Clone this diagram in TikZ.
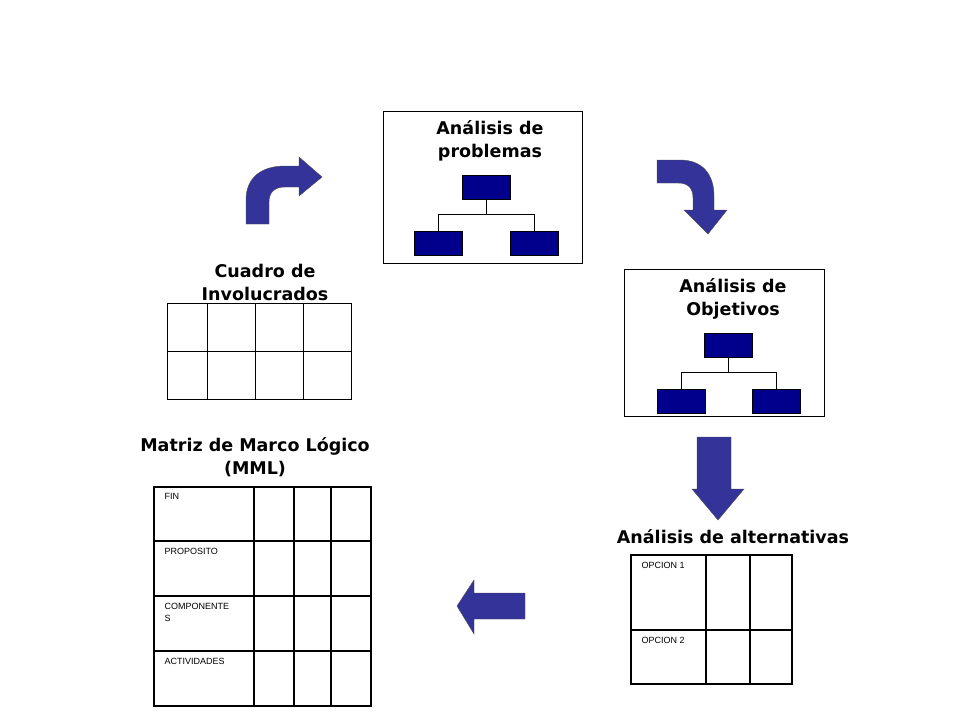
\documentclass[tikz,border=0pt]{standalone}
\usepackage{fontspec}
\setmainfont{DejaVu Sans}
\newfontfamily\tablefont{Liberation Sans}
\definecolor{arrowblue}{RGB}{51,51,153}
\definecolor{treeblue}{RGB}{0,0,140}
\tikzset{
  title/.style={align=center,font=\bfseries\fontsize{17.5pt}{23pt}\selectfont},
  treebox/.style={draw=black,fill=treeblue,minimum width=48pt,minimum height=24pt,inner sep=0pt},
  cell/.style={anchor=north west,font=\tablefont\fontsize{9pt}{12pt}\selectfont,align=left},
  bigarrow/.style={fill=arrowblue,draw=black!70,line width=0.4pt}
}
\begin{document}
\begin{tikzpicture}[x=1pt,y=-1pt]
  \useasboundingbox (0,0) rectangle (960,720);
  % problem tree box
  \draw [line width=0.5] (383,111) rectangle (582,263);
  \node [title] (tprob) at (490,141) {Análisis de\\problemas};
  \node [treebox] (p0) at (486,187) {};
  \node [treebox] (p1) at (438,243) {};
  \node [treebox] (p2) at (534,243) {};
  \draw [line width=0.4] (p0.south) -- (486,214) -| (p1.north);
  \draw [line width=0.4] (486,214) -| (p2.north);
  % objective tree box
  \draw [line width=0.5] (624,269) rectangle (824,416);
  \node [title] (tobj) at (733,299) {Análisis de\\Objetivos};
  \node [treebox] (o0) at (728,345) {};
  \node [treebox] (o1) at (681,401) {};
  \node [treebox] (o2) at (776,401) {};
  \draw [line width=0.4] (o0.south) -- (728,372) -| (o1.north);
  \draw [line width=0.4] (728,372) -| (o2.north);
  % stakeholders table
  \node [title] (tinv) at (265,282) {Cuadro de\\Involucrados};
  \draw [line width=0.8] (167,303) rectangle (351,399);
  \draw [line width=0.8] (167,351) -- (351,351);
  \foreach \x in {207,255,303} \draw [line width=0.8] (\x,303) -- (\x,399);
  % logframe table
  \node [title] (tmml) at (255,457) {Matriz de Marco Lógico\\(MML)};
  \draw [line width=1.4] (154,487) rectangle (371,706);
  \foreach \y in {541,596,651} \draw [line width=1.4] (154,\y) -- (371,\y);
  \foreach \x in {254,294,331} \draw [line width=1.4] (\x,487) -- (\x,706);
  \node [cell] (fin) at (161,490) {FIN};
  \node [cell] (prop) at (161,545) {PROPOSITO};
  \node [cell] (comp) at (161,600) {COMPONENTE\\S};
  \node [cell] (act) at (161,655) {ACTIVIDADES};
  % alternatives table
  \node [title] (talt) at (733,537) {Análisis de alternativas};
  \draw [line width=1.2] (631,555) rectangle (792,684);
  \draw [line width=1.2] (631,630) -- (792,630);
  \foreach \x in {706,750} \draw [line width=1.2] (\x,555) -- (\x,684);
  \node [cell] (op1) at (638,559) {OPCION 1};
  \node [cell] (op2) at (638,634) {OPCION 2};
  % curved arrow up-right
  \draw [bigarrow] (246,224) -- (246,200) .. controls (246,177) and (262,166) .. (285,166) -- (299,166) -- (299,157) -- (322,177) -- (299,196) -- (299,187) -- (285,187) .. controls (275,187) and (269,192) .. (269,202) -- (269,224) -- cycle;
  % curved arrow right-down
  \draw [bigarrow] (657,160) -- (680,160) .. controls (703,160) and (714,175) .. (714,196) -- (714,210) -- (727,210) -- (708,234) -- (684,210) -- (693,210) -- (693,198) .. controls (693,188) and (688,183) .. (678,183) -- (657,183) -- cycle;
  % arrow down
  \draw [bigarrow] (697,437) -- (731,437) -- (731,489) -- (744,489) -- (718,520) -- (692,489) -- (697,489) -- cycle;
  % arrow left
  \draw [bigarrow] (525,593) -- (474,593) -- (474,580) -- (457,606) -- (474,634) -- (474,619) -- (525,619) -- cycle;
\end{tikzpicture}
\end{document}
